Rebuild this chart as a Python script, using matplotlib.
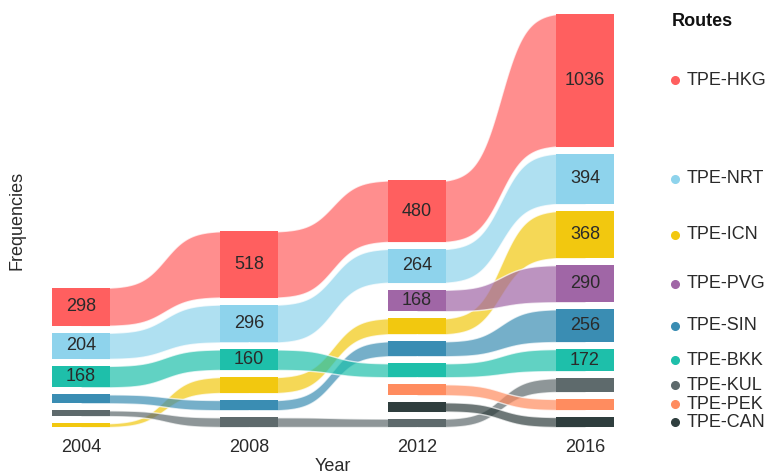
import numpy as np
import matplotlib
matplotlib.use("Agg")
import matplotlib.pyplot as plt
from matplotlib.transforms import blended_transform_factory

plt.rcParams['font.family'] = ['Liberation Sans', 'DejaVu Sans']

years = [2004, 2008, 2012, 2016]
routes = ["TPE-HKG", "TPE-NRT", "TPE-ICN", "TPE-PVG", "TPE-SIN",
          "TPE-BKK", "TPE-KUL", "TPE-PEK", "TPE-CAN"]
colors = ["#FF5F5F", "#8ED3EC", "#F2C80F", "#A066A6", "#3A8DB3",
          "#1EBFAA", "#5E6A6C", "#FF8C5F", "#2F3E3E"]

# frequencies per year (None = route not flown that year)
hkg = [298, 518, 480, 1036]
nrt = [204, 296, 264, 394]
icn = [30, 125, 125, 368]
pvg = [None, None, 168, 290]
sin = [70, 80, 117, 256]
bkk = [168, 160, 109, 172]
kul = [45, 76, 66, 108]
pek = [None, None, 86, 86]
can = [None, None, 72, 78]
values = [hkg, nrt, icn, pvg, sin, bkk, kul, pek, can]

gap = 55
half_w = 0.69
label_min = 150

# stack each year: largest on top, smallest at the bottom
bottoms = {}
for j, yr in enumerate(years):
    present = [i for i in range(len(routes)) if values[i][j] is not None]
    present.sort(key=lambda i: values[i][j])
    y = 0
    for i in present:
        bottoms[(i, j)] = y
        y += values[i][j] + gap
y_top = max(bottoms[(i, 3)] + values[i][3] for i in range(len(routes)))

fig = plt.figure(figsize=(7.77, 4.75), dpi=100)
ax = fig.add_axes([52 / 777, 48 / 475, 562 / 777, 413 / 475])


def ease(t):
    k = 9.0
    s = 1 / (1 + np.exp(-k * (t - 0.5)))
    s0 = 1 / (1 + np.exp(k * 0.5))
    return (s - s0) / (1 - 2 * s0)


t = np.linspace(0, 1, 80)
for i, name in enumerate(routes):
    for j in range(len(years) - 1):
        if values[i][j] is None or values[i][j + 1] is None:
            continue
        x0 = years[j] + half_w
        x1 = years[j + 1] - half_w
        b0, b1 = bottoms[(i, j)], bottoms[(i, j + 1)]
        top0, top1 = b0 + values[i][j], b1 + values[i][j + 1]
        xs = np.concatenate([[years[j]], x0 + (x1 - x0) * t, [years[j + 1]]])
        e = np.concatenate([[0.0], ease(t), [1.0]])
        lo = b0 + (b1 - b0) * e
        hi = top0 + (top1 - top0) * e
        ax.fill_between(xs, lo, hi, color=colors[i], alpha=0.7,
                        edgecolor="white", linewidth=1.0, zorder=2)

for i, name in enumerate(routes):
    for j, yr in enumerate(years):
        v = values[i][j]
        if v is None:
            continue
        b = bottoms[(i, j)]
        ax.bar(yr, v, width=2 * half_w, bottom=b, color=colors[i],
               edgecolor="none", zorder=3)
        if v >= label_min:
            ax.text(yr, b + v / 2, str(v), ha="center", va="center",
                    fontsize=13, color="#2a2a2a", zorder=4)

ax.set_xlim(years[0] - half_w, years[-1] + half_w)
ax.set_ylim(0, y_top)
ax.set_xticks(years)
ax.set_xticklabels([str(y) for y in years], fontsize=13, color="#2a2a2a")
ax.set_yticks([])
ax.tick_params(axis="x", length=0, pad=9)
for s in ax.spines.values():
    s.set_visible(False)
ax.set_xlabel("Year", fontsize=13, color="#2a2a2a")
ax.xaxis.set_label_coords(0.5, -0.075)
ax.set_ylabel("Frequencies", fontsize=13, color="#2a2a2a")
ax.yaxis.set_label_coords(-0.048, 0.5)

# legend placed beside the 2016 strata
tr = blended_transform_factory(fig.transFigure, ax.transData)
fig.text(672 / 777, 1 - 22 / 475, "Routes", fontsize=13, fontweight="bold",
         ha="left", va="center", color="#111111")
for i, name in enumerate(routes):
    yc = bottoms[(i, 3)] + values[i][3] / 2
    ax.plot([675 / 777], [yc], "o", ms=5.5, color=colors[i], transform=tr,
            clip_on=False)
    ax.text(687 / 777, yc, name, transform=tr, fontsize=13, ha="left",
            va="center", color="#2a2a2a")

fig.savefig("out.png", dpi=100)
